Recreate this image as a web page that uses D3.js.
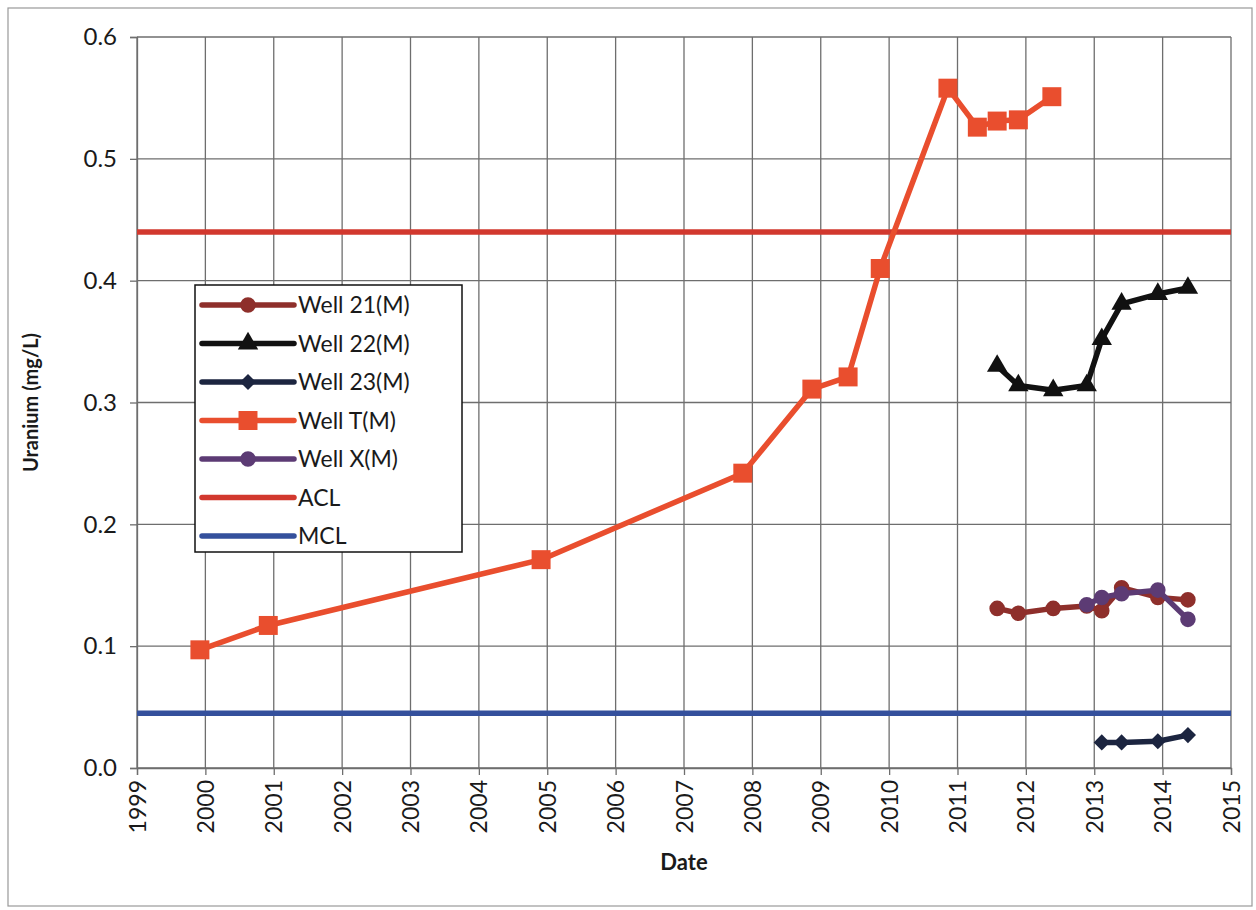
<!DOCTYPE html>
<html>
<head>
<meta charset="utf-8">
<script src="https://cdn.jsdelivr.net/npm/d3@7"></script>
<style>
  body { margin: 0; background: #fff; }
  text { font-family: Lato, "Open Sans", sans-serif; fill: #1a1a1a; }
</style>
</head>
<body>
<svg id="chart"></svg>
<script>
// data (decimal years, mg/L)
const well21Dates = [2011.58, 2011.89, 2012.40, 2012.89, 2013.11, 2013.40, 2013.93, 2014.37]
const well21Vals  = [0.131, 0.127, 0.131, 0.133, 0.129, 0.148, 0.140, 0.138]

const well22Dates = [2011.58, 2011.89, 2012.40, 2012.89, 2013.11, 2013.40, 2013.93, 2014.37]
const well22Vals  = [0.330, 0.314, 0.310, 0.314, 0.352, 0.381, 0.389, 0.394]

const well23Dates = [2013.11, 2013.40, 2013.93, 2014.37]
const well23Vals  = [0.021, 0.021, 0.022, 0.027]

const wellTDates = [1999.92, 2000.92, 2004.91, 2007.86, 2008.87, 2009.40, 2009.87, 2010.86, 2011.29, 2011.58, 2011.89, 2012.38]
const wellTVals  = [0.097, 0.117, 0.171, 0.242, 0.311, 0.321, 0.410, 0.558, 0.526, 0.531, 0.532, 0.551]

const wellXDates = [2012.89, 2013.11, 2013.40, 2013.93, 2014.37]
const wellXVals  = [0.134, 0.140, 0.143, 0.146, 0.122]

const aclValue = 0.44
const mclValue = 0.045

const yearTicks = d3.range(1999, 2016)
const valueTicks = [0, 0.1, 0.2, 0.3, 0.4, 0.5, 0.6]

// square turned 45deg, wider than d3's own diamond
const wideDiamond = {
  draw(ctx, size) {
    const r = Math.sqrt(size / 2)
    ctx.moveTo(0, -r); ctx.lineTo(r, 0); ctx.lineTo(0, r); ctx.lineTo(-r, 0); ctx.closePath()
  }
}

const series = [
  { name: "Well 21(M)", dates: well21Dates, vals: well21Vals, color: "#8e2f2b", symbol: d3.symbolCircle, size: 190 },
  { name: "Well 22(M)", dates: well22Dates, vals: well22Vals, color: "#111111", symbol: d3.symbolTriangle, size: 180 },
  { name: "Well 23(M)", dates: well23Dates, vals: well23Vals, color: "#1c2540", symbol: wideDiamond, size: 130 },
  { name: "Well T(M)",  dates: wellTDates,  vals: wellTVals,  color: "#e94e2e", symbol: d3.symbolSquare, size: 360 },
  { name: "Well X(M)",  dates: wellXDates,  vals: wellXVals,  color: "#5c3b74", symbol: d3.symbolCircle, size: 190 }
]
const refLines = [
  { name: "ACL", value: aclValue, color: "#d2382e" },
  { name: "MCL", value: mclValue, color: "#34509c" }
]

const W = 1256, H = 910
const margin = { top: 37, right: 25, bottom: 142, left: 137 }
const innerW = W - margin.left - margin.right
const innerH = H - margin.top - margin.bottom

const svg = d3.select("#chart").attr("width", W).attr("height", H)

// outer chart frame
svg.append("rect")
  .attr("x", 8).attr("y", 8).attr("width", W - 12).attr("height", H - 12)
  .attr("fill", "none").attr("stroke", "#999").attr("stroke-width", 1.2)

const g = svg.append("g").attr("transform", `translate(${margin.left},${margin.top})`)

const x = d3.scaleLinear().domain([1999, 2015]).range([0, innerW])
const y = d3.scaleLinear().domain([0, 0.6]).range([innerH, 0])

// grid
g.append("g")
  .selectAll("line")
  .data(yearTicks)
  .enter().append("line")
  .attr("x1", d => x(d)).attr("x2", d => x(d))
  .attr("y1", 0).attr("y2", innerH)
  .attr("stroke", "#6e6e6e").attr("stroke-width", 1.3)

g.append("g")
  .selectAll("line")
  .data(valueTicks)
  .enter().append("line")
  .attr("x1", 0).attr("x2", innerW)
  .attr("y1", d => y(d)).attr("y2", d => y(d))
  .attr("stroke", "#6e6e6e").attr("stroke-width", 1.3)

// axes
const xAxis = g.append("g")
  .attr("transform", `translate(0,${innerH})`)
  .call(d3.axisBottom(x).tickValues(yearTicks).tickFormat(d3.format("d")).tickSize(7).tickPadding(10))
xAxis.selectAll("text")
  .attr("transform", "rotate(-90)")
  .attr("text-anchor", "end")
  .attr("x", -12).attr("y", 0).attr("dy", "0.35em")
  .style("font-size", "23px")

const yAxis = g.append("g")
  .call(d3.axisLeft(y).tickValues(valueTicks).tickFormat(d3.format(".1f")).tickSize(7).tickPadding(13))
yAxis.selectAll("text").style("font-size", "24px")

g.selectAll(".domain").attr("stroke", "#6e6e6e").attr("stroke-width", 1.3)
g.selectAll(".tick line").attr("stroke", "#6e6e6e").attr("stroke-width", 1.3)

// axis titles
svg.append("text")
  .attr("transform", `translate(38,${margin.top + innerH / 2}) rotate(-90)`)
  .attr("text-anchor", "middle")
  .style("font-size", "20px").style("font-weight", "bold")
  .text("Uranium (mg/L)")

svg.append("text")
  .attr("x", margin.left + innerW / 2).attr("y", 870)
  .attr("text-anchor", "middle")
  .style("font-size", "22px").style("font-weight", "bold")
  .text("Date")

// reference lines
g.append("g")
  .selectAll("line")
  .data(refLines)
  .enter().append("line")
  .attr("x1", 0).attr("x2", innerW)
  .attr("y1", d => y(d.value)).attr("y2", d => y(d.value))
  .attr("stroke", d => d.color).attr("stroke-width", 5.5)

// series lines and markers
const line = d3.line().x(d => x(d[0])).y(d => y(d[1]))
series.forEach(s => {
  const pts = s.dates.map((d, i) => [d, s.vals[i]])
  const sg = g.append("g")
  sg.append("path")
    .attr("d", line(pts))
    .attr("fill", "none")
    .attr("stroke", s.color)
    .attr("stroke-width", 5.5)
    .attr("stroke-linejoin", "round")
  sg.selectAll("path.mk")
    .data(pts)
    .enter().append("path")
    .attr("class", "mk")
    .attr("transform", d => `translate(${x(d[0])},${y(d[1])})`)
    .attr("d", d3.symbol().type(s.symbol).size(s.size))
    .attr("fill", s.color)
})

// legend
const legend = svg.append("g").attr("transform", "translate(195,285)")
legend.append("rect")
  .attr("width", 267).attr("height", 267)
  .attr("fill", "#fff").attr("stroke", "#111").attr("stroke-width", 1.5)

const legendItems = series.concat(refLines)
const li = legend.selectAll("g.item")
  .data(legendItems)
  .enter().append("g")
  .attr("class", "item")
  .attr("transform", (d, i) => `translate(0,${20 + i * 38.5})`)
li.append("line")
  .attr("x1", 7).attr("x2", 99)
  .attr("stroke", d => d.color).attr("stroke-width", 5.5)
  .attr("stroke-linecap", "round")
li.filter(d => d.symbol)
  .append("path")
  .attr("transform", "translate(53,0)")
  .attr("d", d => d3.symbol().type(d.symbol).size(d.size)())
  .attr("fill", d => d.color)
li.append("text")
  .attr("x", 103).attr("dy", "0.36em")
  .style("font-size", "23px")
  .text(d => d.name)
</script>
</body>
</html>
